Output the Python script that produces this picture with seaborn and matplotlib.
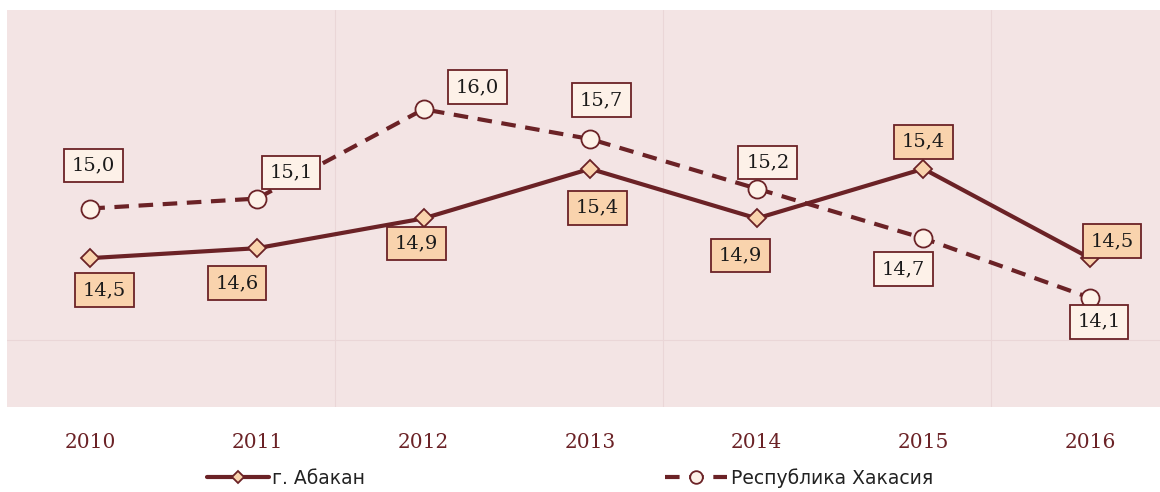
import matplotlib
matplotlib.use("Agg")
import matplotlib.pyplot as plt
import seaborn as sns
import pandas as pd

years = ["2010", "2011", "2012", "2013", "2014", "2015", "2016"]
abakan = [14.5, 14.6, 14.9, 15.4, 14.9, 15.4, 14.5]
khakasia = [15.0, 15.1, 16.0, 15.7, 15.2, 14.7, 14.1]
series_names = ["г. Абакан", "Республика Хакасия"]

# label offsets in pixels (dx, dy) relative to the point
abakan_off = [(14, -32), (-20, -35), (-7, -25), (7, -39), (-16, -37), (0, 27), (22, 17)]
khakasia_off = [(3, 43), (34, 26), (54, 22), (11, 39), (11, 26), (-20, -31), (9, -24)]

sns.set_theme(style="white")
plt.rcParams['font.family'] = ['DejaVu Sans']

maroon = "#6b2226"
bg = "#f3e4e4"
peach = "#f9d3ad"
cream = "#fdf1e8"

fig = plt.figure(figsize=(11.6, 4.92), dpi=100)
ax = fig.add_axes([7/1160, 1 - 407/492, 1153/1160, 397/492])
ax.set_facecolor(bg)

x = list(range(len(years)))
df = pd.DataFrame({
    "x": x * 2,
    "y": abakan + khakasia,
    "s": [series_names[0]] * len(x) + [series_names[1]] * len(x),
})

sns.lineplot(data=df[df.s == series_names[0]], x="x", y="y", ax=ax, color=maroon,
             linewidth=3.0, marker="D", markersize=9, markerfacecolor=peach,
             markeredgecolor=maroon, markeredgewidth=1.3, label=series_names[0], zorder=3)
sns.lineplot(data=df[df.s == series_names[1]], x="x", y="y", ax=ax, color=maroon,
             linewidth=3.0, marker="o", markersize=13, markerfacecolor=cream,
             markeredgecolor=maroon, markeredgewidth=1.3, label=series_names[1], zorder=3)
ax.lines[1].set_dashes((3.5, 2.3))

# faint seams in the textured background
for xf in [(335 - 7) / 1153, (663 - 7) / 1153, (991 - 7) / 1153]:
    ax.axvline(-0.5 + xf * 6.92, color="#ead6d7", lw=0.8, zorder=1)
ax.axhline(13.68, color="#ead6d7", lw=0.8, zorder=1)

def fmt(v):
    return f"{v:.1f}".replace(".", ",")

for vals, offs, fc in [(abakan, abakan_off, peach), (khakasia, khakasia_off, cream)]:
    for i, (v, (dx, dy)) in enumerate(zip(vals, offs)):
        ax.annotate(fmt(v), (i, v), xytext=(dx, dy), textcoords="offset pixels",
                    ha="center", va="center", fontsize=14, family="DejaVu Serif",
                    color="#1a1a1a", zorder=5,
                    bbox=dict(boxstyle="square,pad=0.4", fc=fc, ec=maroon, lw=1.3))

ax.set_xlim(-0.5, 6.42)
ax.set_ylim(13.0, 17.0)
ax.set_xticks(x)
ax.set_xticklabels(years, family="DejaVu Serif", fontsize=14.5, color=maroon)
ax.set_yticks([])
ax.tick_params(axis="x", length=0, pad=19)
ax.set_xlabel("")
ax.set_ylabel("")
for sp in ax.spines.values():
    sp.set_visible(False)

leg = ax.legend(loc="center", bbox_to_anchor=(570/1160, 1 - 478/492),
                bbox_transform=fig.transFigure, ncol=2, frameon=False,
                fontsize=13.5, handlelength=3.3, columnspacing=16, handletextpad=0.2,
                markerscale=0.7)
for t in leg.get_texts():
    t.set_color("#222222")

fig.savefig("out.png", dpi=100)
